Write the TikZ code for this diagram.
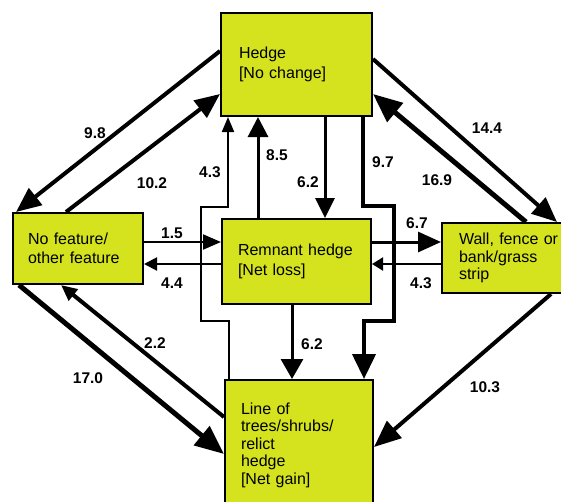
\documentclass[tikz,border=0pt]{standalone}
\usepackage{fontspec}
\setmainfont{Liberation Sans}
\usetikzlibrary{arrows.meta,calc}
\definecolor{boxfill}{RGB}{213,227,30}
\begin{document}
\begin{tikzpicture}[x=1pt,y=-1pt,
  box/.style={draw=black, line width=2pt, fill=boxfill, rectangle, align=left,
    font=\fontsize{16}{19.5}\selectfont, inner ysep=0pt},
  num/.style={font=\fontsize{15.5}{18}\selectfont\bfseries, inner sep=0pt},
  conn/.style n args={3}{line width=#1, miter limit=10,
    -{Triangle[length=#2,width=#3]}},
]
\useasboundingbox (0,0) rectangle (561,501);

% boxes
\node[box, minimum width=151pt, minimum height=103pt, text width=115pt, inner xsep=18pt]
  (hedge) at (296.5,64.5) {Hedge\\{[No change]}};
\node[box, minimum width=149pt, minimum height=85pt, text width=117pt, inner xsep=16pt]
  (remnant) at (296.5,261.5) {Remnant hedge\\{[Net loss]}};
\node[box, minimum width=130pt, minimum height=71pt, text width=100pt, inner xsep=15pt,
  font=\fontsize{16}{18.5}\selectfont]
  (nofeat) at (78,248.5) {No feature/\\other feature};
\node[box, minimum width=138pt, minimum height=70pt, text width=104pt, inner xsep=17pt,
  font=\fontsize{16}{17.5}\selectfont]
  (wall) at (511,258) {Wall, fence or\\bank/grass\\strip};
\node[box, minimum width=148pt, minimum height=130pt, text width=116pt, inner xsep=16pt,
  font=\fontsize{16}{17.5}\selectfont]
  (line) at (299,445) {Line of\\trees/shrubs/\\relict\\hedge\\{[Net gain]}};

% diagonal connectors
\draw[conn={4pt}{25pt}{21pt}] ($(hedge.north west)+(0,39)$) -- ($(nofeat.north west)+(4,0)$);
\draw[conn={4pt}{25pt}{21pt}] ($(nofeat.north west)+(54,0)$) -- ($(hedge.north west)+(0,82)$);
\draw[conn={4pt}{25pt}{21pt}] ($(hedge.north east)+(0,47)$) -- ($(wall.north west)+(116,0)$);
\draw[conn={5pt}{29pt}{24pt}] ($(wall.north west)+(85,0)$) -- ($(hedge.north east)+(0,82)$);
\draw[conn={5pt}{29pt}{24pt}] ($(nofeat.south west)+(7,0)$) -- ($(line.north west)+(0,75)$);
\draw[conn={4pt}{16pt}{14pt}] ($(line.north west)+(0,38)$) -- ($(nofeat.south west)+(49,0)$);
\draw[conn={4pt}{27pt}{22pt}] ($(wall.south west)+(110,0)$) -- ($(line.north east)+(0,68)$);

% vertical connectors
\draw[conn={2pt}{15pt}{12pt}] ($(line.north west)+(5,0)$) -- ++(0,-58) -- ++(-28,0)
  -- ++(0,-114) -- ++(27,0) -- ($(hedge.south west)+(8,0)$);
\draw[conn={3pt}{20pt}{20pt}] ($(remnant.north west)+(37,0)$) -- ($(hedge.south west)+(38,0)$);
\draw[conn={3pt}{20pt}{19pt}] ($(hedge.south west)+(105,0)$) -- ($(remnant.north west)+(104,0)$);
\draw[conn={4pt}{25pt}{23pt}] ($(hedge.south west)+(143,0)$) -- ++(0,89) -- ++(31,0)
  -- ++(0,115) -- ++(-30,0) -- ($(line.north west)+(140,0)$);
\draw[conn={3pt}{20pt}{22pt}] ($(remnant.south west)+(71,0)$) -- ($(line.north west)+(68,0)$);

% horizontal connectors
\draw[conn={2pt}{18pt}{15pt}] ($(nofeat.north east)+(0,30)$) -- ($(remnant.north west)+(0,24)$);
\draw[conn={2pt}{13pt}{13pt}] ($(remnant.north west)+(0,46)$) -- ($(nofeat.north east)+(0,52)$);
\draw[conn={3pt}{23pt}{20pt}] ($(remnant.north east)+(0,24)$) -- ($(wall.north west)+(0,20)$);
\draw[conn={2pt}{11pt}{13pt}] ($(wall.north west)+(0,42)$) -- ($(remnant.north east)+(0,46)$);

% labels
\node[num] (l98) at (95,133) {9.8};
\node[num] (l102) at (152,183) {10.2};
\node[num] (l43a) at (210,172) {4.3};
\node[num] (l85) at (277,155) {8.5};
\node[num] (l62a) at (308,182) {6.2};
\node[num] (l97) at (383,162) {9.7};
\node[num] (l144) at (487,128) {14.4};
\node[num] (l169) at (437,180) {16.9};
\node[num] (l15) at (172,233) {1.5};
\node[num] (l44) at (172,283) {4.4};
\node[num] (l67) at (417,223) {6.7};
\node[num] (l43b) at (421,283) {4.3};
\node[num] (l62b) at (312,344) {6.2};
\node[num] (l22) at (155,343) {2.2};
\node[num] (l170) at (88,378) {17.0};
\node[num] (l103) at (485,387) {10.3};
\end{tikzpicture}
\end{document}
